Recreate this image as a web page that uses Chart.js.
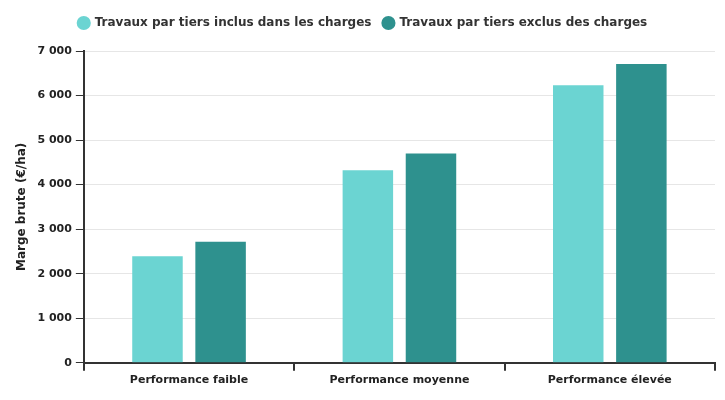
<!DOCTYPE html>
<html>
<head>
<meta charset="utf-8">
<script src="https://cdn.jsdelivr.net/npm/chart.js@4"></script>
<style>
  html, body { margin: 0; padding: 0; background: #fff; }
  #wrap { width: 725px; height: 400px; }
</style>
</head>
<body>
<div id="wrap"><canvas id="chart"></canvas></div>
<script>
const categories = ["Performance faible", "Performance moyenne", "Performance élevée"];
const inclus = [2390, 4320, 6230];
const exclus = [2720, 4700, 6710];
const seriesLabels = ["Travaux par tiers inclus dans les charges", "Travaux par tiers exclus des charges"];

Chart.defaults.font.family = "'DejaVu Sans', sans-serif";
Chart.defaults.color = "#333";

// extra room under the legend
const legendGap = {
  id: "legendGap",
  beforeInit(chart) {
    const origFit = chart.legend.fit;
    chart.legend.fit = function () {
      origFit.bind(chart.legend)();
      this.height += 12;
    };
  },
};

const ctx = document.getElementById("chart").getContext("2d");

const myChart = new Chart(ctx, {
  type: "bar",
  data: {
    labels: categories,
    datasets: [
      {
        label: seriesLabels[0],
        data: inclus,
        backgroundColor: "rgb(107, 212, 210)",
        categoryPercentage: 0.6,
        barPercentage: 0.8,
      },
      {
        label: seriesLabels[1],
        data: exclus,
        backgroundColor: "rgb(46, 145, 142)",
        categoryPercentage: 0.6,
        barPercentage: 0.8,
      },
    ],
  },
  options: {
    responsive: true,
    maintainAspectRatio: false,
    animation: false,
    layout: { padding: { left: 11, right: 10, top: 5, bottom: 10 } },
    scales: {
      x: {
        grid: {
          offset: true,
          drawOnChartArea: false,
          drawTicks: true,
          tickLength: 8,
          color: "#333",
          lineWidth: 2,
        },
        border: { color: "#333", width: 2 },
        ticks: { font: { size: 11, weight: "bold" }, color: "#222" },
      },
      y: {
        min: 0,
        max: 7000,
        ticks: {
          stepSize: 1000,
          padding: 4,
          font: { size: 11, weight: "bold" },
          color: "#222",
          callback: (v) => String(v).replace(/\B(?=(\d{3})+(?!\d))/g, " "),
        },
        grid: {
          color: "#e6e6e6",
          tickColor: "#333",
          tickLength: 8,
          lineWidth: 1,
        },
        border: { color: "#333", width: 2 },
        title: {
          display: true,
          text: "Marge brute (€/ha)",
          font: { size: 12, weight: "bold" },
          color: "#222",
        },
      },
    },
    plugins: {
      legend: {
        position: "top",
        labels: {
          usePointStyle: true,
          pointStyle: "circle",
          boxWidth: 10,
          boxHeight: 10,
          padding: 12,
          font: { size: 12, weight: "bold" },
          color: "#333",
        },
      },
      tooltip: { enabled: false },
    },
  },
  plugins: [legendGap],
});
</script>
</body>
</html>
